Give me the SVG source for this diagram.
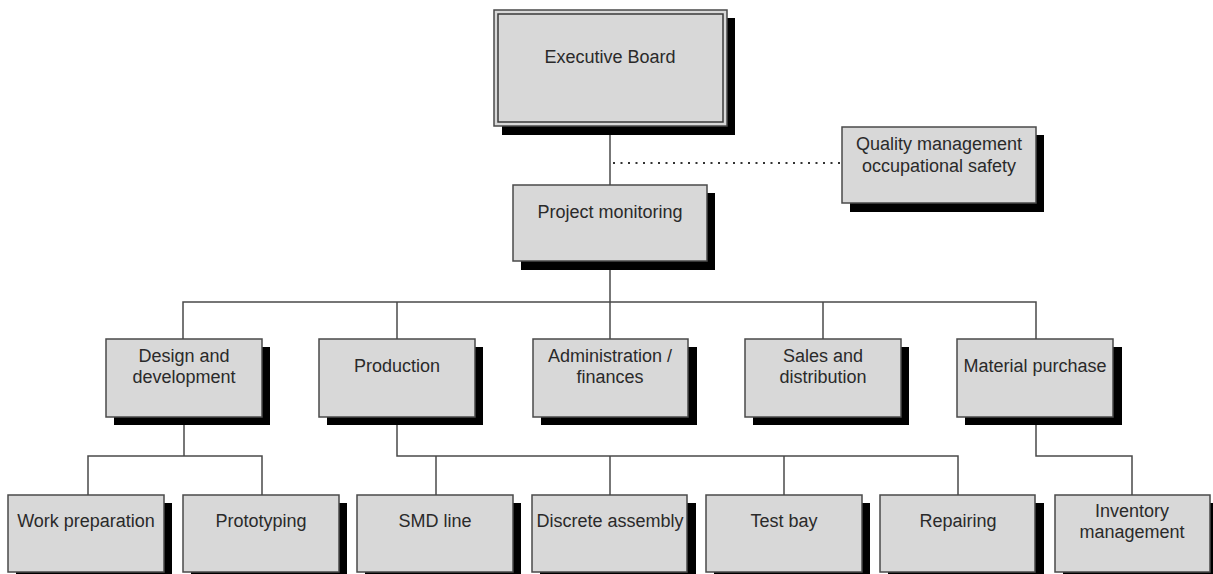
<svg xmlns="http://www.w3.org/2000/svg" width="1213" height="574" viewBox="0 0 1213 574">
  <style>
    .shadow { fill: #000; }
    .box { fill: #d8d8d8; stroke: #4a4a4a; stroke-width: 1.5; }
    .inner { fill: none; stroke: #3a3a3a; stroke-width: 1.5; }
    .label { font-family: "Liberation Sans", Arial, sans-serif; font-size: 18px; fill: #2a2a2a; text-anchor: middle; }
    .wire { fill: none; stroke: #4a4a4a; stroke-width: 1.5; }
    .dotted { fill: none; stroke: #333; stroke-width: 2; stroke-dasharray: 2 5.5; }
  </style>

  <!-- connectors -->
  <g id="connectors">
    <path class="wire" d="M610 126 V185"/>
    <path class="dotted" d="M613 163 H842"/>
    <path class="wire" d="M610 261 V302"/>
    <path class="wire" d="M183 339 V302 H1036 V339"/>
    <path class="wire" d="M397 302 V339"/>
    <path class="wire" d="M610 302 V339"/>
    <path class="wire" d="M823 302 V339"/>
    <path class="wire" d="M184 417 V456"/>
    <path class="wire" d="M88 495 V456 H262 V495"/>
    <path class="wire" d="M397 417 V456 H958 V495"/>
    <path class="wire" d="M436 456 V495"/>
    <path class="wire" d="M610 456 V495"/>
    <path class="wire" d="M784 456 V495"/>
    <path class="wire" d="M1036 417 V456 H1132 V495"/>
  </g>

  <!-- top level -->
  <g id="executive-board">
    <rect class="shadow" x="502" y="18" width="233" height="117"/>
    <rect class="box" x="494" y="10" width="233" height="116" stroke-width="2.5" stroke="#5a5a5a"/>
    <rect class="inner" x="498" y="14" width="225" height="108"/>
    <text class="label" x="610" y="63">Executive Board</text>
  </g>

  <g id="quality-management">
    <rect class="shadow" x="850" y="135" width="194" height="77"/>
    <rect class="box" x="842" y="127" width="194" height="76"/>
    <text class="label" x="939" y="150">Quality management</text>
    <text class="label" x="939" y="172">occupational safety</text>
  </g>

  <g id="project-monitoring">
    <rect class="shadow" x="521" y="193" width="194" height="77"/>
    <rect class="box" x="513" y="185" width="194" height="76"/>
    <text class="label" x="610" y="218">Project monitoring</text>
  </g>

  <!-- departments -->
  <g id="design-development">
    <rect class="shadow" x="114" y="347" width="156" height="78"/>
    <rect class="box" x="106" y="339" width="156" height="78"/>
    <text class="label" x="184" y="362">Design and</text>
    <text class="label" x="184" y="383">development</text>
  </g>

  <g id="production">
    <rect class="shadow" x="327" y="347" width="156" height="78"/>
    <rect class="box" x="319" y="339" width="156" height="78"/>
    <text class="label" x="397" y="372">Production</text>
  </g>

  <g id="administration">
    <rect class="shadow" x="541" y="347" width="156" height="78"/>
    <rect class="box" x="533" y="339" width="155" height="78"/>
    <text class="label" x="610" y="362">Administration /</text>
    <text class="label" x="610" y="383">finances</text>
  </g>

  <g id="sales-distribution">
    <rect class="shadow" x="753" y="347" width="156" height="78"/>
    <rect class="box" x="745" y="339" width="156" height="78"/>
    <text class="label" x="823" y="362">Sales and</text>
    <text class="label" x="823" y="383">distribution</text>
  </g>

  <g id="material-purchase">
    <rect class="shadow" x="965" y="347" width="157" height="78"/>
    <rect class="box" x="957" y="339" width="156" height="78"/>
    <text class="label" x="1035" y="372">Material purchase</text>
  </g>

  <!-- units -->
  <g id="work-preparation">
    <rect class="shadow" x="16" y="503" width="156" height="78"/>
    <rect class="box" x="8" y="495" width="156" height="77"/>
    <text class="label" x="86" y="527">Work preparation</text>
  </g>

  <g id="prototyping">
    <rect class="shadow" x="191" y="503" width="156" height="78"/>
    <rect class="box" x="183" y="495" width="156" height="77"/>
    <text class="label" x="261" y="527">Prototyping</text>
  </g>

  <g id="smd-line">
    <rect class="shadow" x="365" y="503" width="156" height="78"/>
    <rect class="box" x="357" y="495" width="156" height="77"/>
    <text class="label" x="435" y="527">SMD line</text>
  </g>

  <g id="discrete-assembly">
    <rect class="shadow" x="540" y="503" width="156" height="78"/>
    <rect class="box" x="532" y="495" width="155" height="77"/>
    <text class="label" x="610" y="527">Discrete assembly</text>
  </g>

  <g id="test-bay">
    <rect class="shadow" x="714" y="503" width="156" height="78"/>
    <rect class="box" x="706" y="495" width="156" height="77"/>
    <text class="label" x="784" y="527">Test bay</text>
  </g>

  <g id="repairing">
    <rect class="shadow" x="888" y="503" width="156" height="78"/>
    <rect class="box" x="880" y="495" width="155" height="77"/>
    <text class="label" x="958" y="527">Repairing</text>
  </g>

  <g id="inventory-management">
    <rect class="shadow" x="1063" y="503" width="150" height="78"/>
    <rect class="box" x="1055" y="495" width="155" height="77"/>
    <text class="label" x="1132" y="517">Inventory</text>
    <text class="label" x="1132" y="538">management</text>
  </g>
</svg>
